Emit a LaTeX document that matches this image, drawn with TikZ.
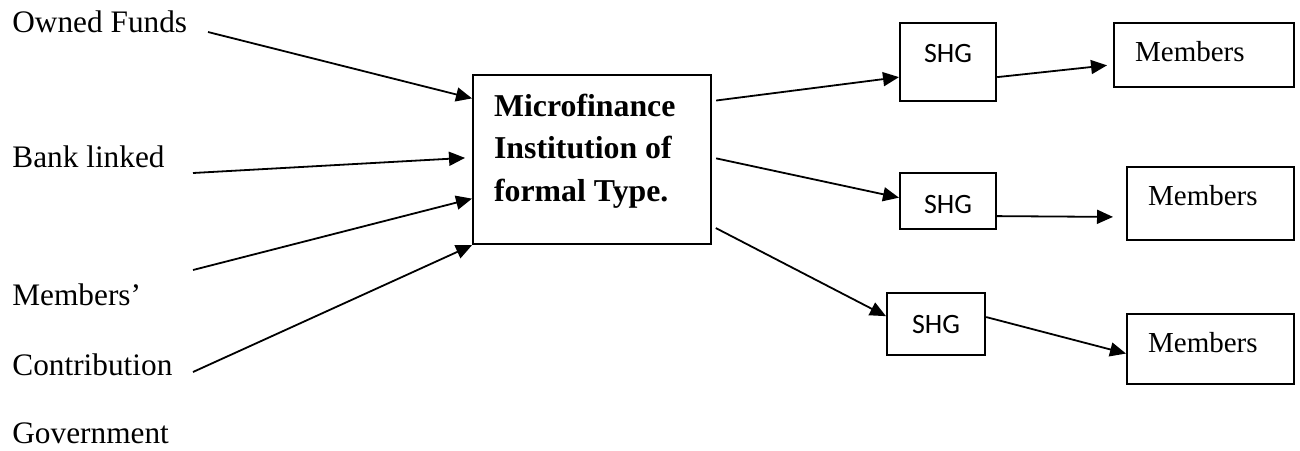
\documentclass[tikz,border=0pt]{standalone}
\usepackage{fontspec}
\setmainfont{Liberation Serif}
\newfontfamily\shgfont{Carlito}
\usetikzlibrary{arrows.meta}

\begin{document}
\begin{tikzpicture}[x=0.5pt,y=-0.5pt]
	\useasboundingbox (0,0) rectangle (1300,450);
	
	\tikzstyle{mytext}=[anchor=base west,
	inner sep=0pt,
	font=\fontsize{15.65}{18}\selectfont
	]
	\tikzstyle{mybox}=[draw=black,
	line width=1.1pt,
	anchor=north west,
	inner xsep=10.5pt,
	inner ysep=0pt,
	align=flush left
	]
	\tikzstyle{myshg}=[draw=black,
	line width=1.1pt,
	anchor=north west,
	inner sep=0pt,
	align=center,
	font=\shgfont\fontsize{14}{17}\selectfont
	]
	\tikzstyle{mymem}=[mybox, font=\fontsize{14.5}{17}\selectfont, text height=19pt]
	\tikzstyle{myarrow}=[-{Triangle[length=8pt,width=7pt]}, line width=0.9pt]
	
	\coordinate (pown) at (12, 32);
	\coordinate (pbank) at (12, 167);
	\coordinate (pmemb) at (12, 305);
	\coordinate (pcontr) at (12, 375);
	\coordinate (pgovt) at (12, 443);
	
	\coordinate (t1) at (208, 32);
	\coordinate (t2) at (193, 173);
	\coordinate (t3) at (193, 270);
	\coordinate (t4) at (193, 372);
	
	\coordinate (pmfi) at (472, 74);
	
	\coordinate (pshg1) at (899, 22);
	\coordinate (pshg2) at (899, 172);
	\coordinate (pshg3) at (886, 292);
	
	\coordinate (pmem1) at (1113, 22);
	\coordinate (pmem2) at (1126, 166);
	\coordinate (pmem3) at (1126, 313);
	
	
	\node[mytext] (own) at (pown) {Owned Funds};
	\node[mytext] (bank) at (pbank) {Bank linked};
	\node[mytext] (memb) at (pmemb) {Members’};
	\node[mytext] (contr) at (pcontr) {Contribution};
	\node[mytext] (govt) at (pgovt) {Government};
	
	\node[mybox, text width=98pt, text height=20.5pt, text depth=64pt,
	font=\bfseries\fontsize{15.9}{21.25}\selectfont] (mfi) at (pmfi)
	{Microfinance\\Institution of\\formal Type.};
	
	\node[myshg, text width=48pt, text height=19.5pt, text depth=19.5pt] (shg1) at (pshg1) {SHG};
	\node[myshg, text width=48pt, text height=20pt, text depth=8pt] (shg2) at (pshg2) {SHG};
	\node[myshg, text width=49pt, text height=20pt, text depth=11pt] (shg3) at (pshg3) {SHG};
	
	\node[mymem, text width=69pt, text depth=13pt] (mem1) at (pmem1) {Members};
	\node[mymem, text width=62.5pt, text depth=17.5pt] (mem2) at (pmem2) {Members};
	\node[mymem, text width=62.5pt, text depth=16pt] (mem3) at (pmem3) {Members};
	
	\draw[myarrow] (t1) -- (mfi.153);
	\draw[myarrow, shorten >=3.5pt] (t2) -- (mfi.179);
	\draw[myarrow] (t3) -- (mfi.198);
	\draw[myarrow] (t4) -- (mfi.south west);
	
	\draw[myarrow, shorten <=2pt] (mfi.26) -- (shg1.197);
	\draw[myarrow, shorten <=2pt] (mfi.1) -- (shg2.176);
	\draw[myarrow, shorten <=2pt] (mfi.331) -- (shg3.171);
	
	\draw[myarrow, shorten >=3pt] (shg1.343) -- (mem1.186);
	\draw[myarrow, shorten >=6.5pt] (shg2.343) -- (mem2.189);
	\draw[myarrow] (shg3.8) -- (mem3.183);
	
\end{tikzpicture}
\end{document}
